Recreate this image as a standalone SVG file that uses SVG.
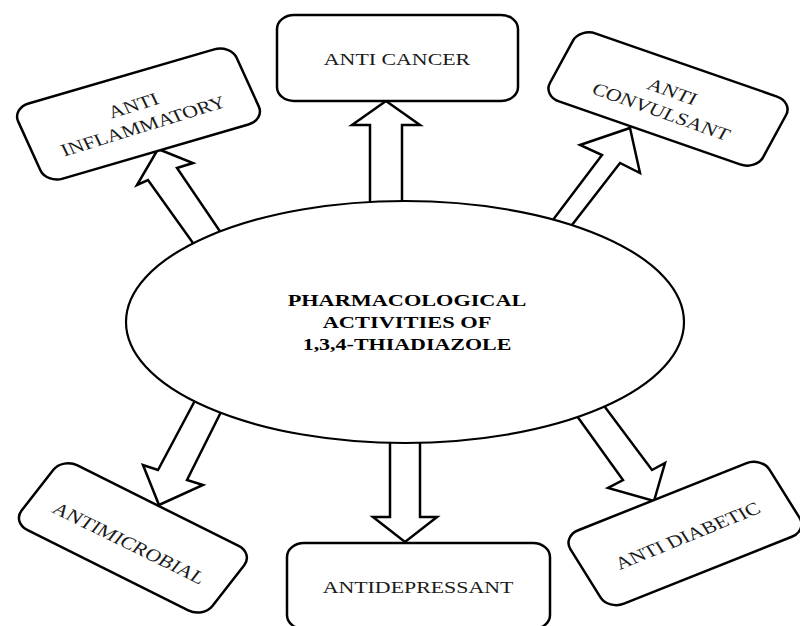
<svg xmlns="http://www.w3.org/2000/svg" width="800" height="626" viewBox="0 0 800 626">
<style>
.box{fill:#fff;stroke:#000;stroke-width:2.5;vector-effect:non-scaling-stroke}
.arrow{fill:#fff;stroke:#000;stroke-width:2.5;stroke-linejoin:miter}
.ell{fill:#fff;stroke:#000;stroke-width:2.2}
.lbl{font-family:"Liberation Serif","Times New Roman",serif;font-size:17.5px;fill:#1a1a1a;text-anchor:middle}
.ctr{font-family:"Liberation Serif","Times New Roman",serif;font-size:17.5px;font-weight:bold;fill:#000;text-anchor:middle}
</style>
<rect width="800" height="626" fill="#fff"/>
<g id="connectors">
<polygon class="arrow" points="386,101 420,125 402,125 402,230 370,230 370,125 352,125"/>
<polygon class="arrow" points="390,420 420,420 420,517 437,517 405,542 373,517 390,517"/>
<polygon class="arrow" points="158,149 193,163 177,168 234,252 208,264 148,180 137,185"/>
<polygon class="arrow" points="630,128 640,173 620,163 558,243 540,237 602,155 580,145"/>
<polygon class="arrow" points="207,378 158,470 143,465 159,505 203,485 187,480 233,388"/>
<polygon class="arrow" points="564,398 623,480 608,488 654,501 665,463 652,470 590,387"/>
</g>
<g id="center">
<ellipse class="ell" cx="405" cy="322" rx="279" ry="121"/>
<g transform="translate(407,0) scale(1.25,1)">
<text class="ctr" x="0" y="306" textLength="191" lengthAdjust="spacingAndGlyphs">PHARMACOLOGICAL</text>
<text class="ctr" x="0" y="328" textLength="135" lengthAdjust="spacingAndGlyphs">ACTIVITIES  OF</text>
<text class="ctr" x="0" y="350" textLength="167" lengthAdjust="spacingAndGlyphs">1,3,4-THIADIAZOLE</text>
</g>
</g>
<g id="anti-cancer">
<rect class="box" x="277" y="15" width="241" height="86" rx="17" ry="14"/>
<g transform="translate(397,65) scale(1.25,1)"><text class="lbl" x="0" y="0">ANTI CANCER</text></g>
</g>
<g id="antidepressant">
<rect class="box" x="287" y="543" width="263" height="86" rx="17" ry="14"/>
<g transform="translate(418,593) scale(1.25,1)"><text class="lbl" x="0" y="0">ANTIDEPRESSANT</text></g>
</g>
<g id="anti-inflammatory">
<g transform="translate(138.5,114) scale(1.25,1) rotate(-20)"><rect class="box" x="-93" y="-40" width="186" height="80" rx="14"/></g>
<g transform="translate(138.3,115.8) scale(1.25,1) rotate(-21)">
<text class="lbl" x="0" y="-5.2">ANTI</text>
<text class="lbl" x="0" y="16.8">INFLAMMATORY</text>
</g>
</g>
<g id="anti-convulsant">
<g transform="translate(668,99) scale(1.25,1) rotate(23.5)"><rect class="box" x="-93" y="-37" width="186" height="74" rx="14"/></g>
<g transform="translate(666.7,101.7) scale(1.25,1) rotate(24)">
<text class="lbl" x="0" y="-5.2">ANTI</text>
<text class="lbl" x="0" y="16.8">CONVULSANT</text>
</g>
</g>
<g id="antimicrobial">
<g transform="translate(132.9,537.9) scale(1.25,1) rotate(32)"><rect class="box" x="-90" y="-38" width="180" height="76" rx="14"/></g>
<g transform="translate(129.2,543.3) scale(1.25,1) rotate(31.5)"><text class="lbl" x="0" y="5.8">ANTIMICROBIAL</text></g>
</g>
<g id="anti-diabetic">
<g transform="translate(685,533.5) scale(1.25,1) rotate(-26.5)"><rect class="box" x="-89" y="-41" width="178" height="82" rx="14"/></g>
<g transform="translate(687.5,535.8) scale(1.25,1) rotate(-27)"><text class="lbl" x="0" y="5.8">ANTI DIABETIC</text></g>
</g>
</svg>
